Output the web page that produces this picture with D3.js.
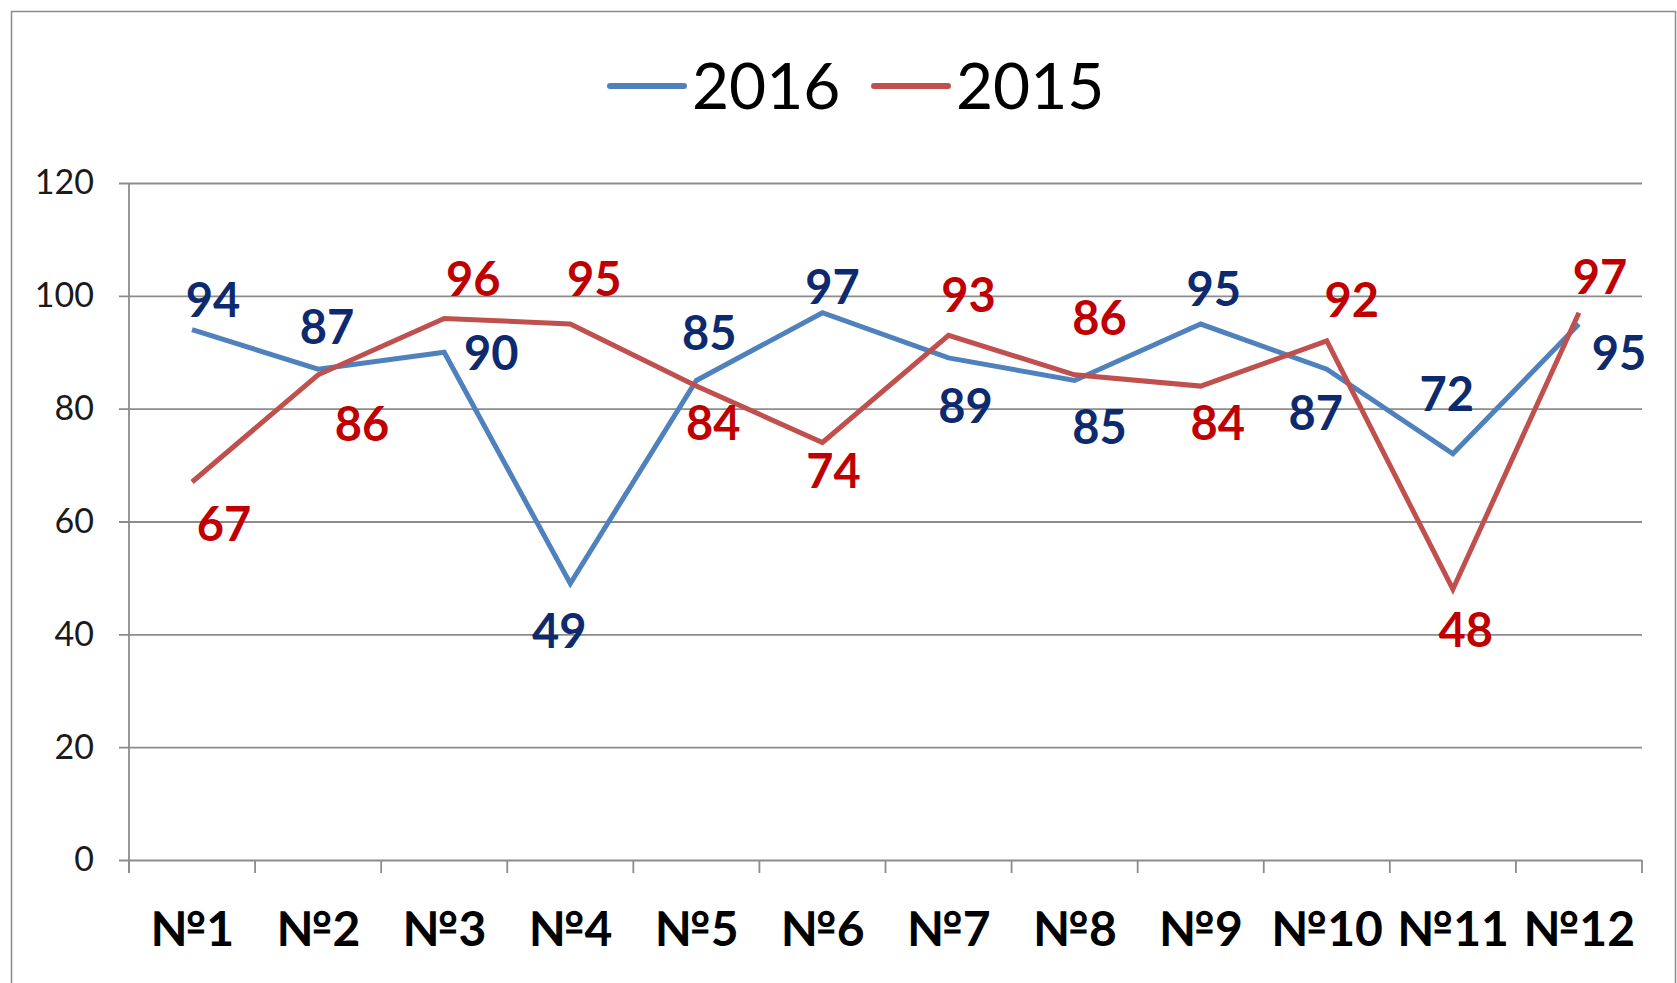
<!DOCTYPE html>
<html>
<head>
<meta charset="utf-8">
<script src="https://cdn.jsdelivr.net/npm/d3@7"></script>
<style>
  body { margin: 0; background: #fff; }
  svg { display: block; font-family: Lato, 'Open Sans', sans-serif; }
</style>
</head>
<body>
<script>
// data
var categories = ['№1','№2','№3','№4','№5','№6','№7','№8','№9','№10','№11','№12'];
var values2016 = [94, 87, 90, 49, 85, 97, 89, 85, 95, 87, 72, 95];
var values2015 = [67, 86, 96, 95, 84, 74, 93, 86, 84, 92, 48, 97];
var yTicks = [0, 20, 40, 60, 80, 100, 120];

// where each value label sits relative to its point (hand placed in the original)
var offsets2016 = [[21,-30],[9,-42],[47,1],[-11,48],[13,-47],[10,-26],[17,48],[25,47],[13,-35],[-11,44],[-6,-60],[40,29]];
var offsets2015 = [[32,42],[44,49],[29,-39],[24,-45],[17,37],[11,29],[20,-40],[25,-57],[17,37],[25,-41],[13,41],[21,-36]];

var series = [
    {name: '2016', values: values2016, offsets: offsets2016, line: '#4f81bd', label: '#0d2a6e'},
    {name: '2015', values: values2015, offsets: offsets2015, line: '#c0504d', label: '#c00000'}
];

var W = 1677, H = 983;
var margin = {top: 183, left: 129, right: 35, bottom: 123};
var width = W - margin.left - margin.right,
    height = H - margin.top - margin.bottom;

var svg = d3.select('body').append('svg')
    .attr('width', W)
    .attr('height', H);

// chart frame
svg.append('rect')
    .attr('x', 11.5).attr('y', 11.5)
    .attr('width', 1664).attr('height', 990)
    .attr('fill', 'none')
    .attr('stroke', '#8a8a8a')
    .attr('stroke-width', 1.5);

var x = d3.scaleBand().domain(categories).range([0, width]).padding(0);
var y = d3.scaleLinear().domain([0, 120]).range([height, 0]);

var focus = svg.append('g')
    .attr('transform', 'translate(' + margin.left + ',' + margin.top + ')');

// gridlines + y axis
var yAxis = focus.append('g')
    .call(d3.axisLeft(y).tickValues(yTicks).tickSize(-width - 10).tickPadding(25));
yAxis.select('.domain').remove();
yAxis.selectAll('line')
    .attr('x1', -10).attr('x2', width)
    .attr('stroke', '#8c8c8c').attr('stroke-width', 1.8);
yAxis.selectAll('text')
    .attr('x', -35)
    .attr('fill', '#1a1a1a')
    .style('font-size', '34px')
    .style('font-family', 'Lato, sans-serif');

// vertical axis line
focus.append('line')
    .attr('x1', 0).attr('x2', 0)
    .attr('y1', 0).attr('y2', height + 13)
    .attr('stroke', '#8c8c8c').attr('stroke-width', 1.8);

// x axis: tick marks at band edges, labels at band centres
var edges = categories.map(function(c) { return x(c); }).concat([width]);
focus.selectAll('.edge')
    .data(edges)
    .enter().append('line')
    .attr('class', 'edge')
    .attr('x1', function(d) { return d; })
    .attr('x2', function(d) { return d; })
    .attr('y1', height)
    .attr('y2', height + 13)
    .attr('stroke', '#8c8c8c').attr('stroke-width', 1.8);

var xAxis = focus.append('g')
    .attr('transform', 'translate(0,' + height + ')')
    .call(d3.axisBottom(x).tickSize(0));
xAxis.select('.domain').remove();
xAxis.selectAll('text')
    .attr('y', 69)
    .attr('dy', '0.36em')
    .attr('fill', '#000')
    .style('font-size', '48px')
    .style('font-weight', 'bold')
    .style('font-family', 'Lato, sans-serif');

var line = d3.line()
    .x(function(d, i) { return x(categories[i]) + x.bandwidth() / 2; })
    .y(function(d) { return y(d); });

series.forEach(function(s) {
    focus.append('path')
        .datum(s.values)
        .attr('d', line)
        .attr('fill', 'none')
        .attr('stroke', s.line)
        .attr('stroke-width', 5)
        .attr('stroke-linejoin', 'miter');
});

series.forEach(function(s) {
    focus.append('g').selectAll('text')
        .data(s.values)
        .enter().append('text')
        .attr('x', function(d, i) { return x(categories[i]) + x.bandwidth() / 2 + s.offsets[i][0]; })
        .attr('y', function(d, i) { return y(d) + s.offsets[i][1]; })
        .attr('dy', '0.36em')
        .attr('text-anchor', 'middle')
        .attr('fill', s.label)
        .style('font-size', '47px')
        .style('font-weight', 'bold')
        .text(function(d) { return d; });
});

// legend
var legend = svg.append('g')
    .attr('transform', 'translate(610,86)');
var legendPos = [0, 264];
series.forEach(function(s, i) {
    var item = legend.append('g').attr('transform', 'translate(' + legendPos[i] + ',0)');
    item.append('line')
        .attr('x1', 0).attr('x2', 74)
        .attr('y1', 0).attr('y2', 0)
        .attr('stroke', s.line)
        .attr('stroke-width', 6)
        .attr('stroke-linecap', 'round');
    item.append('text')
        .attr('x', 82)
        .attr('dy', '0.36em')
        .attr('fill', '#000')
        .style('font-size', '64px')
        .text(s.name);
});
</script>
</body>
</html>
